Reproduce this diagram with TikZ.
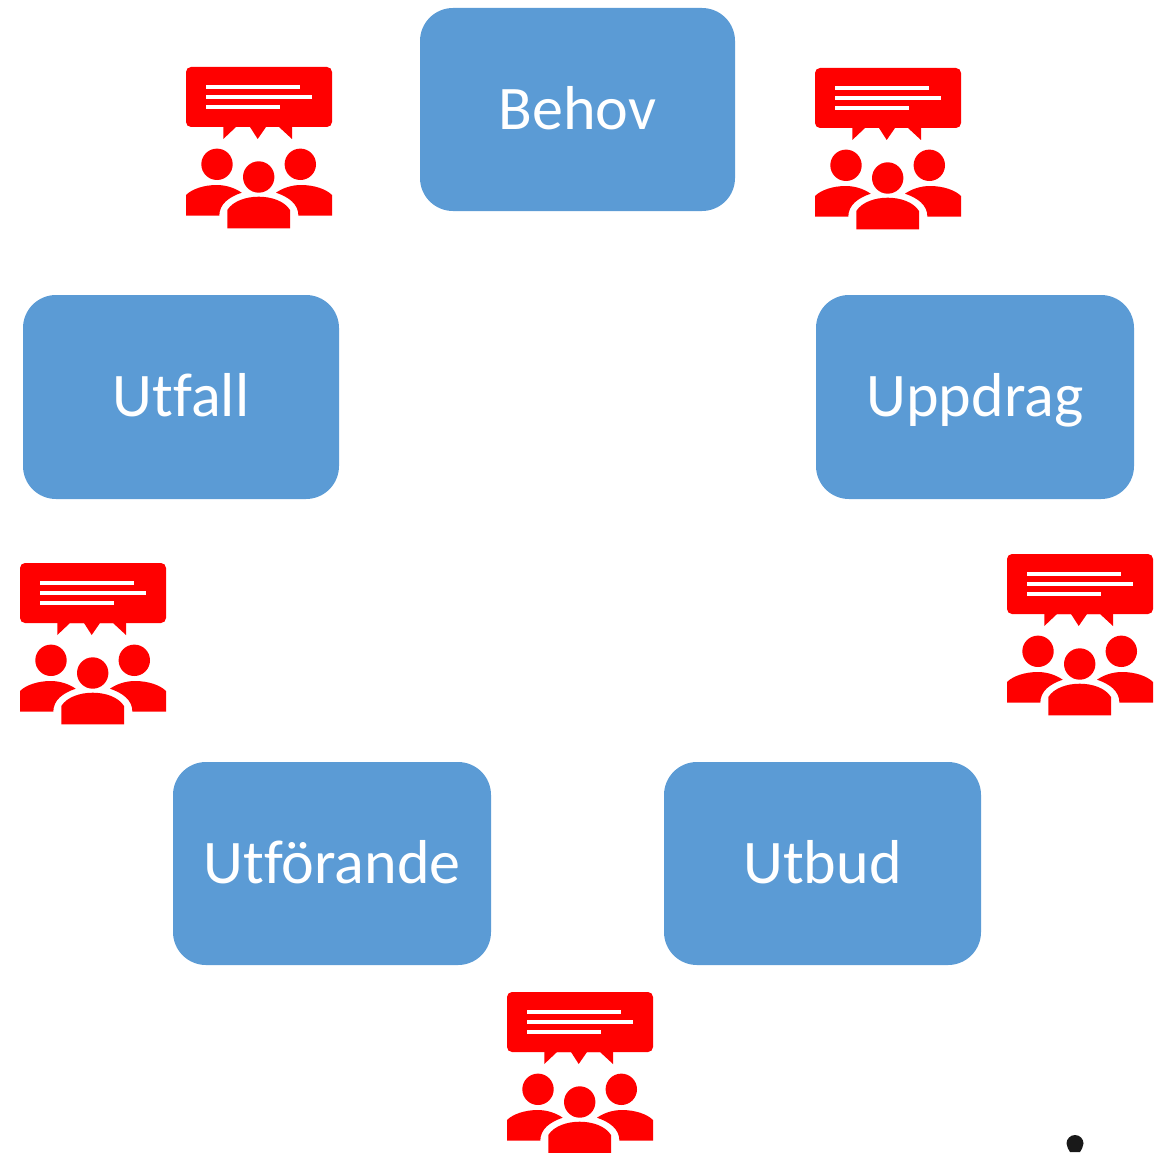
\documentclass[tikz,border=0pt]{standalone}
\usepackage{fontspec}
\setmainfont[Ligatures=NoCommon]{Carlito}
\definecolor{boxblue}{HTML}{5B9BD5}
\tikzset{
  stagebox/.style={fill=boxblue,text=white,rounded corners=0.66cm,inner sep=0pt,text height=25.2pt,text depth=3pt,font=\fontsize{35.3}{40}\selectfont},
  talkgroup/.pic={
    % bubble
    \fill[red,rounded corners=0.1cm] (0,0) rectangle (146,60);
    \fill[red] (37.3,59) -- (37.3,72) -- (50,60) -- (64,60) -- (71.7,72) -- (80,60) -- (93,60) -- (106,72) -- (106,59) -- cycle;
    \fill[white] (19.7,18) rectangle (113.7,22.3);
    \fill[white] (19.7,28.3) rectangle (126.3,32.3);
    \fill[white] (19.7,38.3) rectangle (94,42.3);
    % heads
    \fill[red] (31,97.3) circle [radius=15.7];
    \fill[red] (114.3,97.3) circle [radius=15.7];
    \fill[red] (72.7,110) circle [radius=15.7];
    % bodies
    \fill[red] (0,148.7) -- (0,128) .. controls (6,122) and (18,118) .. (30.7,118) .. controls (40,118) and (49,121) .. (55.7,125.7) .. controls (43,130) and (33.3,137) .. (33.3,148.7) -- cycle;
    \fill[red] (146,148.7) -- (146,128) .. controls (140,122) and (128,118) .. (115,118) .. controls (105.7,118) and (96.7,121) .. (90,125.7) .. controls (102.7,130) and (112.4,137) .. (112.4,148.7) -- cycle;
    \fill[red] (41.3,161.3) -- (41.3,143) .. controls (47,134) and (60,129.7) .. (72.7,129.7) .. controls (85.4,129.7) and (98.4,134) .. (104,143) -- (104,161.3) -- cycle;
  }
}
\begin{document}
\begin{tikzpicture}[x=0.02cm,y=-0.02cm]
\useasboundingbox (0,0) rectangle (1168,1152);
\clip (0,0) rectangle (1168,1152);
\foreach \Point/\Name/\BoxW/\BoxH/\BoxLabel in {(577.5,109.5)/behov/315/203/Behov, (181,397)/utfall/316/204/Utfall, (975,397)/uppdrag/318/204/Uppdrag, (332,863.5)/utforande/318/203/Utförande, (822.5,863.5)/utbud/317/203/Utbud}
\node [stagebox,minimum width=\BoxW*0.02cm,minimum height=\BoxH*0.02cm] (\Name) at \Point {\BoxLabel};
\foreach \Point in {(186,67), (815,68), (20,563), (1007,554), (507,992)}
\pic at \Point {talkgroup};
\fill[black!90] (1066.5,1143.5) arc [start angle=180,end angle=360,radius=8.5] .. controls (1083.5,1147) and (1081,1150) .. (1080,1152) -- (1070,1152) .. controls (1069,1150) and (1066.5,1147) .. (1066.5,1143.5) -- cycle;
\end{tikzpicture}
\end{document}
